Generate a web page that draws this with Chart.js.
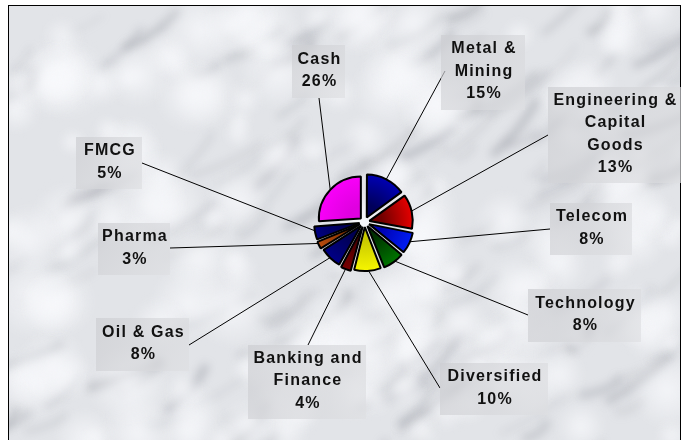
<!DOCTYPE html>
<html>
<head>
<meta charset="utf-8">
<script src="https://cdn.jsdelivr.net/npm/chart.js@4/dist/chart.umd.min.js"></script>
<style>
  html, body { margin: 0; padding: 0; background: #fff; }
  #wrap { width: 681px; height: 440px; }
</style>
</head>
<body>
<div id="wrap"><canvas id="sectorPie" width="681" height="440"></canvas></div>
<script>
// ── Sector allocation (clockwise from 12 o'clock) ──
const SECTORS = ['Metal & Mining', 'Engineering & Capital Goods', 'Telecom', 'Technology', 'Diversified',
                 'Banking and Finance', 'Oil & Gas', 'Pharma', 'FMCG', 'Cash'];
const WEIGHTS = [15, 13, 8, 8, 10, 4, 8, 3, 5, 26];
const LABEL_LINES = [['Metal &', 'Mining'], ['Engineering &', 'Capital', 'Goods'], ['Telecom'], ['Technology'],
                     ['Diversified'], ['Banking and', 'Finance'], ['Oil & Gas'], ['Pharma'], ['FMCG'], ['Cash']];

// ── Slice shading: inner (near centre) → outer rim ──
const SLICE_INNER = ['#00005a', '#700000', '#0000b0', '#003000', '#c8c800', '#400000', '#000050', '#803000', '#000050', '#e000e0'];
const SLICE_OUTER = ['#0000c8', '#ff0000', '#0022ff', '#008000', '#ffff00', '#800000', '#000090', '#c05010', '#000088', '#ff00ff'];

// ── Label boxes: [left, top, width, height, leaderX, leaderY] ──
const LABEL_BOX = [
  [441, 35, 84, 75, 445, 71],
  [548, 87, 133, 96, 548, 135],
  [550, 203, 82, 52, 550, 229],
  [528, 289, 113, 53, 528, 315],
  [440, 363, 108, 52, 440, 388],
  [248, 345, 118, 74, 308, 345],
  [96, 318, 93, 53, 189, 345],
  [98, 223, 72, 52, 170, 248],
  [76, 137, 66, 52, 142, 163],
  [292, 45, 53, 53, 319, 98],
];

const FRAME = { left: 8.5, top: 5.5, right: 680.5, bottom: 440 };
const EXPLODE = 20; // Chart.js moves an arc by offset / 4

// deterministic hash for the backdrop texture only
const hash = n => { const s = Math.sin(n * 12.9898 + 78.233) * 43758.5453; return s - Math.floor(s); };

// ── Marble-ish backdrop ──
function drawMarble(ctx) {
  const x0 = FRAME.left, y0 = FRAME.top, w = FRAME.right - x0, h = FRAME.bottom - y0;
  ctx.save();
  ctx.beginPath(); ctx.rect(x0, y0, w, h); ctx.clip();
  ctx.fillStyle = '#e2e4e8';
  ctx.fillRect(x0, y0, w, h);
  ctx.filter = 'blur(4px)';
  // grey veins running lower-left to upper-right
  ctx.lineCap = 'round';
  for (let i = 0; i < 150; i++) {
    const sx = x0 - 20 + hash(i + 1300) * (w + 20), sy = y0 + hash(i + 1700) * (h + 30);
    const len = 20 + hash(i + 2100) * 60;
    const ang = -0.3 - hash(i + 2500) * 0.6;
    ctx.strokeStyle = `rgba(130,133,142,${0.12 + hash(i + 2900) * 0.25})`;
    ctx.lineWidth = 2 + hash(i + 3300) * 7;
    ctx.beginPath();
    ctx.moveTo(sx, sy);
    ctx.quadraticCurveTo(sx + Math.cos(ang) * len * 0.5 + 5, sy + Math.sin(ang) * len * 0.5 + 4,
                         sx + Math.cos(ang) * len, sy + Math.sin(ang) * len);
    ctx.stroke();
  }
  // white cloudy patches on top
  for (let i = 0; i < 160; i++) {
    const px = x0 + hash(i) * w, py = y0 + hash(i + 500) * h;
    const r = 12 + hash(i + 900) * 30;
    const g = ctx.createRadialGradient(px, py, 0, px, py, r);
    g.addColorStop(0, 'rgba(248,249,252,0.8)');
    g.addColorStop(1, 'rgba(248,249,252,0)');
    ctx.fillStyle = g;
    ctx.fillRect(px - r, py - r, r * 2, r * 2);
  }
  ctx.filter = 'none';
  ctx.restore();
  ctx.strokeStyle = '#000';
  ctx.lineWidth = 1;
  ctx.strokeRect(FRAME.left, FRAME.top, FRAME.right - FRAME.left, FRAME.bottom - FRAME.top + 2);
}

function sliceFill(c) {
  const i = c.dataIndex;
  const a = c.chart.chartArea;
  if (!a) return SLICE_OUTER[i];
  const cx = (a.left + a.right) / 2, cy = (a.top + a.bottom) / 2;
  const g = c.chart.ctx.createRadialGradient(cx, cy, 0, cx, cy, 50);
  g.addColorStop(0.25, SLICE_INNER[i]);
  g.addColorStop(1, SLICE_OUTER[i]);
  return g;
}

const marblePlugin = {
  id: 'marble',
  beforeDraw(chart) { drawMarble(chart.ctx); },
};

const leaderPlugin = {
  id: 'leaders',
  beforeDatasetsDraw(chart) {
    const ctx = chart.ctx;
    const arcs = chart.getDatasetMeta(0).data;
    ctx.save();
    ctx.strokeStyle = '#000';
    ctx.lineWidth = 1;
    arcs.forEach((arc, i) => {
      const mid = (arc.startAngle + arc.endAngle) / 2;
      const r = arc.outerRadius + (arc.options.offset || 0) / 4;
      const box = LABEL_BOX[i];
      ctx.beginPath();
      ctx.moveTo(box[4], box[5]);
      ctx.lineTo(arc.x + Math.cos(mid) * r, arc.y + Math.sin(mid) * r);
      ctx.stroke();
    });
    ctx.restore();
  },
  afterDatasetsDraw(chart) {
    const ctx = chart.ctx;
    ctx.save();
    ctx.font = "bold 16px 'Liberation Sans', Arial, sans-serif";
    ctx.letterSpacing = '1.2px';
    ctx.textAlign = 'center';
    ctx.textBaseline = 'middle';
    SECTORS.forEach((name, i) => {
      const [bx, by, bw, bh] = LABEL_BOX[i];
      const g = ctx.createLinearGradient(bx, by, bx + bw, by + bh);
      g.addColorStop(0, 'rgba(205,206,210,0.7)');
      g.addColorStop(1, 'rgba(222,223,226,0.65)');
      ctx.fillStyle = g;
      ctx.fillRect(bx, by, bw, bh);
      const lines = LABEL_LINES[i].concat([`${WEIGHTS[i]}%`]);
      const cy = by + bh / 2 - 1;
      ctx.fillStyle = '#111';
      lines.forEach((t, k) => {
        ctx.fillText(t, bx + bw / 2 + 1, cy + (k - (lines.length - 1) / 2) * 22.5);
      });
    });
    ctx.restore();
  },
};

new Chart(document.getElementById('sectorPie').getContext('2d'), {
  type: 'pie',
  data: {
    labels: SECTORS,
    datasets: [{
      data: WEIGHTS,
      backgroundColor: sliceFill,
      borderColor: '#000',
      borderWidth: 2,
      offset: EXPLODE,
    }],
  },
  options: {
    responsive: false,
    animation: false,
    radius: 42,
    layout: { padding: { left: 48, top: 4, right: 0, bottom: 0 } },
    plugins: { legend: { display: false }, tooltip: { enabled: false } },
  },
  plugins: [marblePlugin, leaderPlugin],
});
</script>
</body>
</html>
